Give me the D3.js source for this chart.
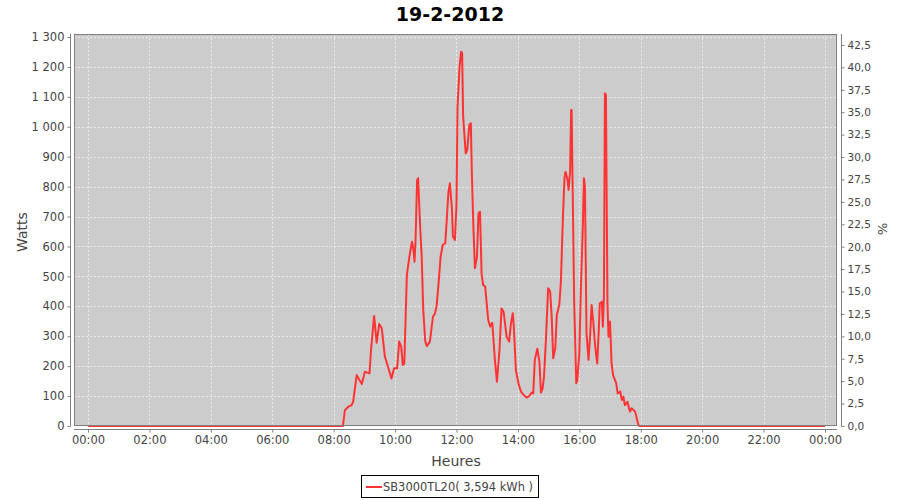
<!DOCTYPE html>
<html><head><meta charset="utf-8">
<script src="https://cdn.jsdelivr.net/npm/d3@7"></script>
<style>body{margin:0;background:#fff}svg{display:block}text{font-family:"DejaVu Sans",sans-serif}</style>
</head><body><svg id="c" width="900" height="500"></svg>
<script>
const title = "19-2-2012";
const seriesName = "SB3000TL20( 3,594 kWh )";
// time in minutes since midnight
const minutes = [0,498,502,509,515,518,525,535,541,550,553,559,564,569,574,580,587,593,598,604,608,612,615,618,623,628,633,636,638,640,643,645,649,652,655,659,662,668,674,678,681,685,689,693,698,701,704,707,711,713,717,720,722,726,729,731,733,738,741,745,748,750,753,756,760,763,766,769,772,776,782,786,790,795,799,804,808,812,818,823,826,830,832,836,841,846,851,857,862,867,870,873,878,882,885,888,891,895,899,903,906,909,913,916,921,924,928,931,933,937,939,942,944,945,947,950,954,956,960,963,967,969,971,974,978,981,984,987,991,995,998,1000,1004,1006,1008,1010,1012,1015,1017,1020,1023,1026,1032,1035,1040,1043,1046,1049,1054,1059,1062,1069,1075,1077,1440];
const watts = [0,0,53,65,70,81,170,140,181,176,254,368,278,341,326,232,193,159,193,193,282,265,204,209,505,566,616,588,549,622,822,828,666,566,388,282,267,282,365,377,399,477,566,605,611,688,778,811,728,633,622,744,1067,1201,1251,1246,1034,911,922,1006,1012,845,666,527,566,711,716,510,471,466,354,332,345,221,148,254,393,382,298,282,338,377,332,187,143,115,104,95,100,112,109,221,258,215,112,123,165,298,460,450,365,226,260,370,407,482,700,828,850,822,789,850,1056,1056,789,410,143,154,243,455,677,828,800,310,221,298,404,354,265,209,321,410,415,332,432,1112,1106,410,298,349,209,170,143,109,115,87,98,70,81,48,59,48,6,0,0];
const timeTicks = [0,120,240,360,480,600,720,840,960,1080,1200,1320,1440];
const wattTicks = [0,100,200,300,400,500,600,700,800,900,1000,1100,1200,1300];
const pctTicks = [0,2.5,5,7.5,10,12.5,15,17.5,20,22.5,25,27.5,30,32.5,35,37.5,40,42.5];

const svg = d3.select("#c");
const L=74, R=837, T=34, B=426;
const x = d3.scaleLinear().domain([-27.4,1463.5]).range([L,R]);
const y = d3.scaleLinear().domain([0,1310]).range([B,T]);
const y2 = d3.scaleLinear().domain([0,43.72]).range([B,T]);

svg.append("rect").attr("x",L).attr("y",T).attr("width",R-L).attr("height",B-T).attr("fill","#cccccc");

// grid
const g = svg.append("g").attr("stroke","#f2f2f2").attr("stroke-width",0.8).attr("stroke-dasharray","2,2");
wattTicks.forEach(v=>g.append("line").attr("x1",L).attr("x2",R).attr("y1",Math.round(y(v))+0.5).attr("y2",Math.round(y(v))+0.5));
timeTicks.forEach(v=>g.append("line").attr("y1",T).attr("y2",B).attr("x1",Math.round(x(v))+0.5).attr("x2",Math.round(x(v))+0.5));

// line
const line = d3.line().x((d,i)=>x(minutes[i])).y(d=>y(d));
svg.append("path").datum(watts).attr("d",line).attr("fill","none").attr("stroke","#ff3333").attr("stroke-width",2).attr("stroke-linejoin","round");

svg.append("rect").attr("x",L+0.5).attr("y",T+0.5).attr("width",R-L-1).attr("height",B-T-1).attr("fill","none").attr("stroke","#808080");

const fmtW = v => d3.format(",")(v).replace(/,/g," ");
const fmtT = v => { const h=Math.floor(v/60)%24; return String(h).padStart(2,"0")+":00"; };
const fmtP = v => d3.format(".1f")(v).replace(".",",");

function styleAxis(sel){
  sel.selectAll("path").attr("stroke","#808080");
  sel.selectAll("line").attr("stroke","#808080");
  sel.selectAll("text").attr("fill","#444").style("font-size","11.5px").style("font-family","DejaVu Sans, sans-serif");
}
const la = svg.append("g").attr("transform","translate(70.5,0)")
  .call(d3.axisLeft(y).tickValues(wattTicks).tickFormat(fmtW).tickSize(3).tickSizeOuter(0).tickPadding(3));
styleAxis(la);
la.select("path").attr("d",`M0,${T}V${B}`);
const ba = svg.append("g").attr("transform","translate(0,429.5)")
  .call(d3.axisBottom(x).tickValues(timeTicks).tickFormat(fmtT).tickSize(3).tickSizeOuter(0).tickPadding(3));
styleAxis(ba);
ba.select("path").attr("d",`M${L},0H${R}`);
const ra = svg.append("g").attr("transform","translate(841.5,0)")
  .call(d3.axisRight(y2).tickValues(pctTicks).tickFormat(fmtP).tickSize(3).tickSizeOuter(0).tickPadding(3));
styleAxis(ra);
ra.selectAll("text").style("font-size","10.5px");
ra.select("path").attr("d",`M0,${T}V${B}`);

svg.append("text").attr("x",450).attr("y",21).attr("text-anchor","middle").style("font-size","19px").style("font-weight","bold").attr("fill","#000").text(title);
svg.append("text").attr("transform","translate(27,232) rotate(-90)").attr("text-anchor","middle").style("font-size","14px").attr("fill","#444").text("Watts");
svg.append("text").attr("x",456).attr("y",466).attr("text-anchor","middle").style("font-size","14px").attr("fill","#444").text("Heures");
svg.append("text").attr("transform","translate(878,229) rotate(90)").attr("text-anchor","middle").style("font-size","13px").attr("fill","#444").text("%");

// legend
const lg = svg.append("g");
lg.append("rect").attr("x",361.5).attr("y",475.5).attr("width",177).attr("height",22).attr("fill","#fff").attr("stroke","#000");
lg.append("line").attr("x1",366).attr("x2",382).attr("y1",487).attr("y2",487).attr("stroke","#ff3333").attr("stroke-width",2);
lg.append("text").attr("x",383).attr("y",491).attr("textLength",150).attr("lengthAdjust","spacingAndGlyphs").style("font-size","11.5px").attr("fill","#444").text(seriesName);
</script></body></html>
